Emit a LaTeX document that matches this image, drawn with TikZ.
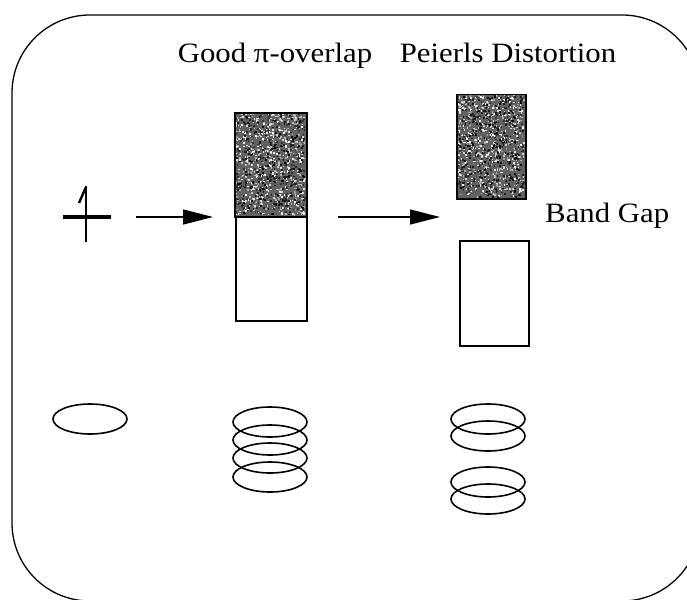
\documentclass[tikz,border=0pt]{standalone}
\usepackage{fontspec}
\setmainfont{Liberation Serif}
\usetikzlibrary{arrows.meta,calc}

\tikzset{
  frame/.style={line width=1.3pt, rounded corners=78pt},
  label/.style={inner sep=0pt, font=\fontsize{28}{30}\selectfont, xscale=1.1},
  band/.style={draw, line width=1.5pt, inner sep=0pt, anchor=north west},
  orbital/.style={line width=1.6pt},
  push/.style={line width=1.3pt, -{Triangle[length=30pt,width=15pt]}},
}

% speckled grey fill for an occupied band: x0, y0, width, height
\newcommand{\speckle}[4]{%
  \fill[black!62] (#1,#2) rectangle ++(#3,#4);
  \foreach \k in {1,...,700}{%
    \pgfmathsetmacro{\px}{#1+rnd*(#3-2)}%
    \pgfmathsetmacro{\py}{#2+rnd*(#4-2)}%
    \pgfmathsetmacro{\op}{0.35+0.6*rnd}%
    \fill[white,opacity=\op] (\px,\py) rectangle ++(1.6,1.6);
  }%
  \foreach \k in {1,...,500}{%
    \pgfmathsetmacro{\px}{#1+rnd*(#3-2)}%
    \pgfmathsetmacro{\py}{#2+rnd*(#4-2)}%
    \pgfmathsetmacro{\op}{0.4+0.5*rnd}%
    \fill[black,opacity=\op] (\px,\py) rectangle ++(1.8,1.8);
  }%
}

\begin{document}
\begin{tikzpicture}[x=1pt,y=-1pt]
\pgfmathsetseed{11}
\useasboundingbox (0,0) rectangle (687,599);

% outer frame
\draw[frame] (12,15) rectangle (700,601);

% headings
\node[label, anchor=base] (t1) at (275,63) {Good π-overlap};
\node[label, anchor=base] (t2) at (508,63) {Peierls Distortion};
\node[label, anchor=base west] (gap) at (545,222) {Band Gap};

% single site level with one electron
\coordinate (site) at (86,217);
\draw[line width=3.6pt] (63,217) -- (111,217);
\draw[line width=2pt] (86,186) -- (86,242);
\draw[line width=2.4pt] (86,187) -- (79,203);

% uniform stack: half-filled band
\speckle{234}{112}{72}{104}
\node[band, minimum width=72pt, minimum height=104pt] (occ1) at (234,112) {};
\node[band, minimum width=71pt, minimum height=104pt] (emp1) at (235,216) {};

% distorted stack: split band
\speckle{456}{94}{69}{104}
\node[band, minimum width=69pt, minimum height=104pt] (occ2) at (456,94) {};
\node[band, minimum width=69pt, minimum height=105pt] (emp2) at (459,240) {};

% arrows between stages
\coordinate (a1s) at (136,217);
\coordinate (a1e) at (213,217);
\coordinate (a2s) at (338,217);
\coordinate (a2e) at (440,217);
\draw[push] (a1s) -- (a1e);
\draw[push] (a2s) -- (a2e);

% pi orbitals
\draw[orbital] (90,419) ellipse [x radius=37, y radius=15];

\foreach \cy in {422,440,458,477}
  \draw[orbital] (270,\cy) ellipse [x radius=37, y radius=15];

\foreach \cy in {419,436,482,499}
  \draw[orbital] (488,\cy) ellipse [x radius=37, y radius=15];
\end{tikzpicture}
\end{document}
